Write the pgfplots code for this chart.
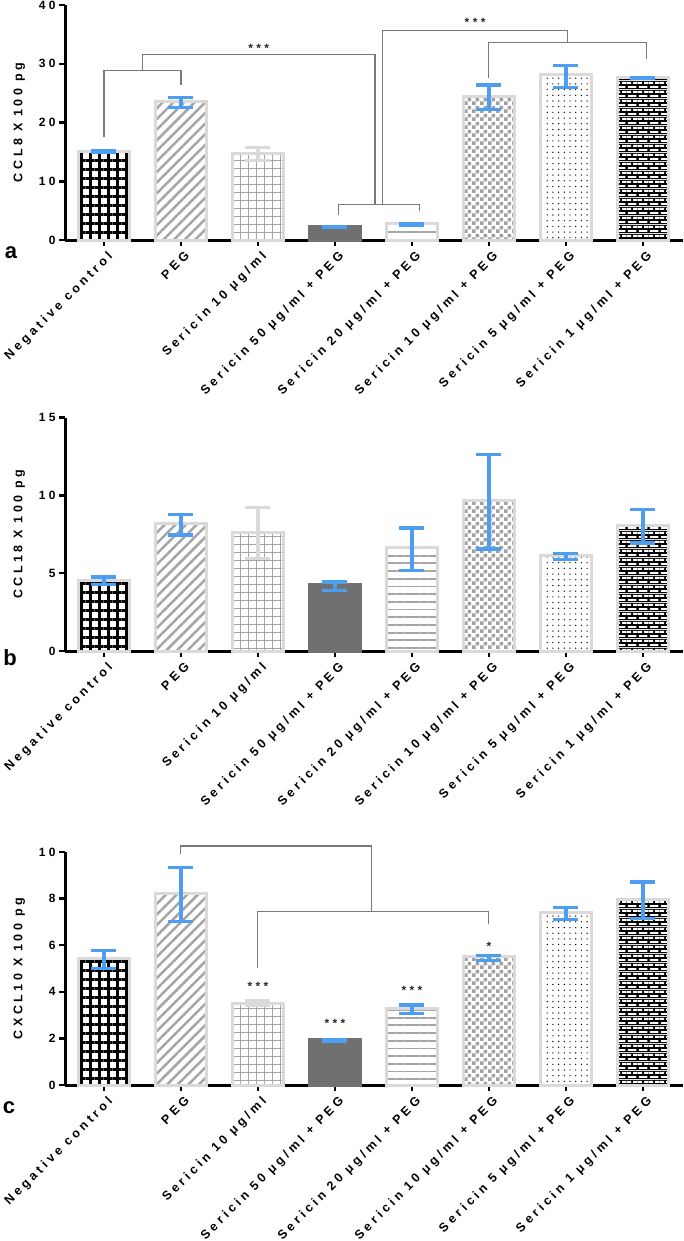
\documentclass[border=0pt]{standalone}
\usepackage{pgfplots}
\pgfplotsset{compat=1.18}
\usetikzlibrary{patterns.meta}
\usepackage{fontspec}
\setmainfont{Liberation Sans}
\newfontfamily\spaced[LetterSpace=28]{Liberation Sans}

\definecolor{errblue}{RGB}{77,157,240}
\definecolor{bord}{RGB}{218,218,218}
\definecolor{solidg}{RGB}{112,112,112}
\definecolor{pgray}{RGB}{165,165,165}
\definecolor{chk}{RGB}{160,160,160}
\definecolor{brgray}{RGB}{120,120,120}

\tikzdeclarepattern{
  name=checker, type=uncolored,
  bottom left={(0pt,0pt)}, top right={(8pt,8pt)}, tile size={(8pt,8pt)},
  code={
    \fill (0pt,0pt) rectangle (4pt,4pt);
    \fill (4pt,4pt) rectangle (8pt,8pt);
  }
}
\tikzdeclarepattern{
  name=bricksb, type=colored,
  bottom left={(0pt,0pt)}, top right={(11pt,9pt)}, tile size={(11pt,9pt)},
  code={
    \fill[black] (0pt,0pt) rectangle (11pt,9pt);
    \fill[white] (1pt,1.25pt) rectangle (10pt,3.25pt);
    \fill[white] (0pt,5.75pt) rectangle (4.5pt,7.75pt);
    \fill[white] (6.5pt,5.75pt) rectangle (11pt,7.75pt);
  }
}

\tikzset{
 brk/.style={draw=brgray, line width=1.1pt},
 star/.style={font=\spaced\bfseries\fontsize{12}{12}\selectfont, text=black!85},
}

\pgfplotsset{
 b0/.style={draw=bord, pattern={Hatch[angle=0,distance=9pt,line width=3pt]}, pattern color=black},
 b1/.style={draw=bord, pattern={Lines[angle=45,distance=7.5pt,line width=2.5pt]}, pattern color=pgray},
 b2/.style={draw=bord, pattern={Hatch[angle=0,distance=8pt,line width=1pt]}, pattern color=pgray},
 b3/.style={draw=solidg, fill=solidg},
 b4/.style={draw=bord, pattern={Lines[angle=0,distance=7.7pt,line width=1.8pt]}, pattern color=pgray},
 b5/.style={draw=bord, pattern=checker, pattern color=chk},
 b6/.style={draw=bord, pattern={Dots[distance=5.7pt,radius=0.7pt]}, pattern color=black},
 b7/.style={draw=bord, pattern=bricksb},
 panel/.style={
  scale only axis, width=618pt, xmin=-0.506, xmax=7.52, ymin=0,
  axis x line*=bottom, axis y line*=left,
  axis line style={line width=3pt, -},
  tick style={line width=2.5pt, black},
  major tick length=6pt, tick align=outside,
  xtick={0,...,7},
  xticklabels={Negative control, PEG, Sericin 10 μg/ml, Sericin 50 μg/ml + PEG, Sericin 20 μg/ml + PEG, Sericin 10 μg/ml + PEG, Sericin 5 μg/ml + PEG, Sericin 1 μg/ml + PEG},
  xticklabel style={font=\spaced\bfseries\fontsize{12.5}{14}\selectfont, rotate=45, anchor=north east, inner sep=1pt, yshift=-4pt},
  yticklabel style={font=\spaced\bfseries\fontsize{12}{13}\selectfont},
  /pgf/number format/assume math mode=true,
  every axis y label/.style={at={(axis description cs:-0.074,0.5)}, rotate=90, anchor=center, font=\spaced\bfseries\fontsize{12.5}{14}\selectfont},
  clip=false,
 },
}

\newcommand{\pbar}[6]{\addplot[ybar, bar width=51pt, bar shift=0pt, line width=3pt, #1,
  error bars/.cd, y dir=both, y explicit, error mark=|,
  error bar style={line width=3.2pt, color=#6},
  error mark options={line width=3.2pt, mark size=12.5pt, color=#6}]
  coordinates {(#2,#3) += (0,#4) -= (0,#5)};}

\begin{document}
\begin{tikzpicture}
\path[use as bounding box] (0pt,0pt) rectangle (683pt,-1241pt);

% ---------------- panel a
\begin{axis}[panel, at={(65pt,-240pt)}, anchor=south west, height=235pt,
  ymax=40, ytick={0,10,20,30,40}, ylabel={CCL8 X 100 pg}]
\pbar{b0}{0}{15.1}{0.05}{0.25}{errblue}
\pbar{b1}{1}{23.6}{0.6}{1.0}{errblue}
\pbar{b2}{2}{14.7}{1.1}{1.1}{bord}
\pbar{b3}{3}{2.3}{0}{0.2}{errblue}
\pbar{b4}{4}{2.75}{0}{0.2}{errblue}
\pbar{b5}{5}{24.4}{2.0}{2.2}{errblue}
\pbar{b6}{6}{28.1}{1.6}{2.1}{errblue}
\pbar{b7}{7}{27.7}{0}{0.2}{errblue}
\draw[brk] (axis cs:0,17.6) -- (axis cs:0,28.9) -- (axis cs:1,28.9) -- (axis cs:1,26.4);
\draw[brk] (axis cs:0.5,28.9) -- (axis cs:0.5,31.5) -- (axis cs:3.52,31.5) -- (axis cs:3.52,6.1);
\draw[brk] (axis cs:3.05,4.25) -- (axis cs:3.05,6.1) -- (axis cs:4.1,6.1) -- (axis cs:4.1,5.0);
\draw[brk] (axis cs:3.62,6.1) -- (axis cs:3.62,35.7) -- (axis cs:6.02,35.7) -- (axis cs:6.02,33.6);
\draw[brk] (axis cs:4.99,27.6) -- (axis cs:4.99,33.6) -- (axis cs:7.04,33.6) -- (axis cs:7.04,30.75);
\node[star] at (axis cs:2.01,32.6) {***};
\node[star] at (axis cs:4.82,37.0) {***};
\end{axis}

% ---------------- panel b
\begin{axis}[panel, at={(65pt,-651pt)}, anchor=south west, height=233.5pt,
  ymax=15, ytick={0,5,10,15}, ylabel={CCL18 X 100 pg}]
\pbar{b0}{0}{4.54}{0.21}{0.28}{errblue}
\pbar{b1}{1}{8.18}{0.6}{0.73}{errblue}
\pbar{b2}{2}{7.6}{1.6}{1.67}{bord}
\pbar{b3}{3}{4.26}{0.17}{0.36}{errblue}
\pbar{b4}{4}{6.62}{1.28}{1.44}{errblue}
\pbar{b5}{5}{9.66}{2.97}{3.11}{errblue}
\pbar{b6}{6}{6.15}{0.1}{0.25}{errblue}
\pbar{b7}{7}{8.07}{1.03}{1.13}{errblue}
\end{axis}

% ---------------- panel c
\begin{axis}[panel, at={(65pt,-1085pt)}, anchor=south west, height=233pt,
  ymax=10, ytick={0,2,4,6,8,10}, ylabel={CXCL10 X 100 pg}]
\pbar{b0}{0}{5.41}{0.36}{0.42}{errblue}
\pbar{b1}{1}{8.24}{1.1}{1.21}{errblue}
\pbar{b2}{2}{3.51}{0.12}{0.1}{bord}
\pbar{b3}{3}{1.96}{0}{0.1}{errblue}
\pbar{b4}{4}{3.3}{0.13}{0.24}{errblue}
\pbar{b5}{5}{5.5}{0.06}{0.16}{errblue}
\pbar{b6}{6}{7.39}{0.22}{0.3}{errblue}
\pbar{b7}{7}{7.96}{0.75}{0.83}{errblue}
\draw[brk] (axis cs:0.99,9.93) -- (axis cs:0.99,10.26) -- (axis cs:3.48,10.26) -- (axis cs:3.48,7.43);
\draw[brk] (axis cs:1.99,5.04) -- (axis cs:1.99,7.43) -- (axis cs:4.99,7.43) -- (axis cs:4.99,6.93);
\node[star] at (axis cs:2,4.25) {***};
\node[star] at (axis cs:3,2.65) {***};
\node[star] at (axis cs:4,4.05) {***};
\node[star] at (axis cs:5,5.95) {*};
\end{axis}

\node[font=\bfseries\fontsize{22}{22}\selectfont] at (11pt,-253pt) {a};
\node[font=\bfseries\fontsize{22}{22}\selectfont] at (10pt,-658pt) {b};
\node[font=\bfseries\fontsize{22}{22}\selectfont] at (9pt,-1108pt) {c};
\end{tikzpicture}
\end{document}
